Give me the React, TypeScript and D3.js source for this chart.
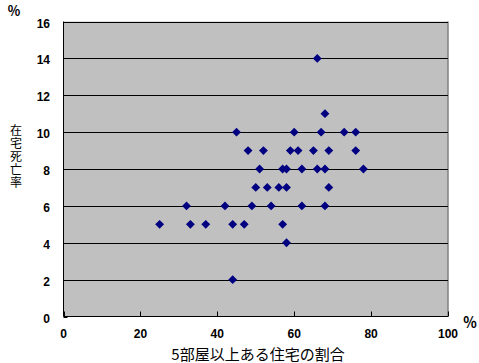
import React from "react";
import * as d3 from "d3";

const xValues = [25, 32, 33, 37, 42, 44, 44, 45, 47, 48, 49, 50, 51, 52, 53, 54, 56, 57, 57, 58, 58, 58, 59, 60, 61, 62, 62, 65, 66, 66, 67, 68, 68, 68, 69, 69, 73, 76, 76, 78];
const yValues = [5, 6, 5, 5, 6, 5, 2, 10, 5, 9, 6, 7, 8, 9, 7, 6, 7, 8, 5, 8, 7, 4, 9, 10, 9, 8, 6, 9, 14, 8, 10, 11, 8, 6, 9, 7, 10, 10, 9, 8];
const xTicks = [0, 20, 40, 60, 80, 100];
const yTicks = [0, 2, 4, 6, 8, 10, 12, 14, 16];
const xTitle = "5部屋以上ある住宅の割合";
const yTitle = "在宅死亡率";
const unit = "％";

export default function App() {
  const W = 479, H = 363;
  const left = 63.5, right = 448, top = 21.5, bottom = 316.5;
  const x = d3.scaleLinear().domain([0, 100]).range([left, right]);
  const y = d3.scaleLinear().domain([0, 16]).range([bottom, top]);
  const diamond = d3.symbol().type(d3.symbolDiamond2).size(50)();
  const tickFont = { fontFamily: "Liberation Sans, Arial, sans-serif", fontWeight: 700, fontSize: 12 } as const;
  const jp = "Noto Sans CJK JP, sans-serif";
  const pts = xValues.map((v, i) => [v, yValues[i]]);
  return (
    <svg width={W} height={H} style={{ position: "absolute", left: 0, top: 0, background: "#fff" }}>
      <rect x={left} y={top} width={right - left} height={bottom - top} fill="#C0C0C0" />
      <line x1={right} x2={right} y1={top} y2={bottom} stroke="#808080" strokeWidth={1.5} />
      {yTicks.filter((t) => t > 0).map((t) => (
        <line key={"g" + t} x1={left} x2={right} y1={Math.round(y(t)) + 0.5} y2={Math.round(y(t)) + 0.5} stroke="#000" strokeWidth={1} />
      ))}
      <line x1={left} x2={left} y1={top} y2={bottom} stroke="#000" strokeWidth={1} />
      <line x1={left} x2={right} y1={bottom} y2={bottom} stroke="#000" strokeWidth={1} />
      {yTicks.map((t) => (
        <g key={"yt" + t}>
          <line x1={left} x2={left + 4} y1={Math.round(y(t)) + 0.5} y2={Math.round(y(t)) + 0.5} stroke="#000" />
          <text x={50} y={y(t) + 6} textAnchor="end" {...tickFont}>{t}</text>
        </g>
      ))}
      {xTicks.map((t) => (
        <g key={"xt" + t}>
          <line x1={Math.round(x(t)) + 0.5} x2={Math.round(x(t)) + 0.5} y1={bottom} y2={bottom - 5} stroke="#000" />
          <text x={x(t)} y={338} textAnchor="middle" {...tickFont}>{t}</text>
        </g>
      ))}
      {pts.map(([a, b], i) => (
        <path key={i} d={diamond} transform={`translate(${x(a)},${y(b)})`} fill="#000080" />
      ))}
      <text x={14} y={15} textAnchor="middle" fontFamily={jp} fontWeight={700} fontSize={13}>{unit}</text>
      <text x={470} y={327} textAnchor="middle" fontFamily={jp} fontWeight={700} fontSize={14}>{unit}</text>
      <text x={258} y={360} textAnchor="middle" fontFamily={jp} fontSize={15}>{xTitle}</text>
      <text x={16} y={124} fontFamily={jp} fontSize={12} letterSpacing={1} style={{ writingMode: "vertical-rl" }}>{yTitle}</text>
    </svg>
  );
}
